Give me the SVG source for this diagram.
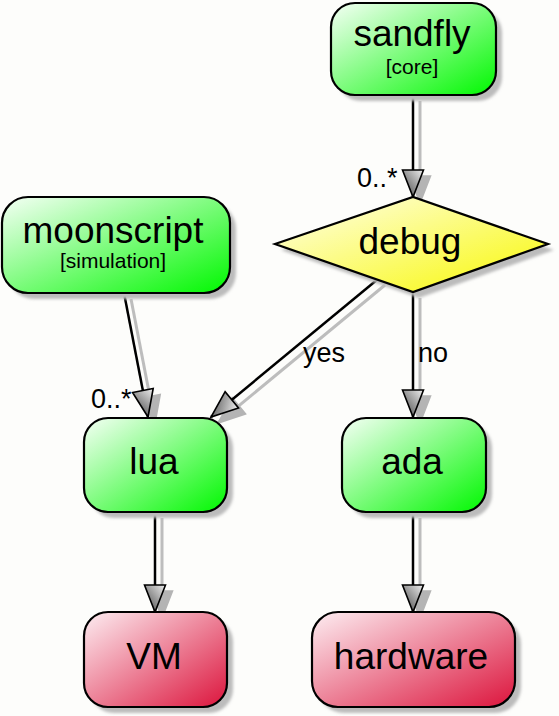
<svg xmlns="http://www.w3.org/2000/svg" width="559" height="716" viewBox="0 0 559 716">
<defs>
<linearGradient id="gGreen" x1="0" y1="0" x2="1" y2="1"><stop offset="0" stop-color="#f6fff6"/><stop offset="1" stop-color="#00f800"/></linearGradient>
<linearGradient id="gRed" x1="0" y1="0" x2="1" y2="1"><stop offset="0" stop-color="#fdeef2"/><stop offset="1" stop-color="#dc143c"/></linearGradient>
<linearGradient id="gYellow" x1="0" y1="0" x2="1" y2="1"><stop offset="0" stop-color="#ffffee"/><stop offset="1" stop-color="#f8f800"/></linearGradient>
<linearGradient id="gArrow" x1="0" y1="0" x2="1" y2="1"><stop offset="0" stop-color="#f0f0f0"/><stop offset="1" stop-color="#404040"/></linearGradient>
<filter id="blur" x="-10%" y="-10%" width="120%" height="120%"><feGaussianBlur stdDeviation="1.5"/></filter>
<marker id="arr" markerUnits="userSpaceOnUse" markerWidth="32" markerHeight="26" refX="28" refY="11.5" orient="auto" overflow="visible">
<path d="M1,1 L28,11.5 L1,22 Z" fill="url(#gArrow)" stroke="#000" stroke-width="1.6" stroke-linejoin="miter"/>
</marker>
<marker id="arrS" markerUnits="userSpaceOnUse" markerWidth="32" markerHeight="26" refX="28" refY="11.5" orient="auto" overflow="visible">
<path d="M1,1 L28,11.5 L1,22 Z" fill="#b4b4b4" stroke="#b4b4b4" stroke-width="1.6"/>
</marker>
</defs>
<style>
.sh{fill:#bcbcbc;filter:url(#blur)}
.box{stroke:#000;stroke-width:2.2}
.t{font-family:"Liberation Sans",Arial,sans-serif;font-size:37px;fill:#000;text-anchor:middle}
.s{font-family:"Liberation Sans",Arial,sans-serif;font-size:21px;fill:#000;text-anchor:middle}
.lbl{font-family:"Liberation Sans",Arial,sans-serif;font-size:27px;fill:#000}
.ln{fill:none;stroke:#000;stroke-width:2.5;marker-end:url(#arr)}
.lnS{fill:none;stroke:#bdbdbd;stroke-width:3;marker-end:url(#arrS)}
</style>
<rect x="0" y="0" width="559" height="716" fill="#fdfdfb"/>
<g id="connectors">
<g transform="translate(7,6)">
<path class="lnS" d="M413,95 L413,197"/>
<path class="lnS" d="M124,293 L148,417"/>
<path class="lnS" d="M378,279 L211,417"/>
<path class="lnS" d="M413,292 L413,417"/>
<path class="lnS" d="M155,512 L155,612"/>
<path class="lnS" d="M413,512 L413,612"/>
</g>
<path class="ln" d="M413,95 L413,197"/>
<path class="ln" d="M124,293 L148,417"/>
<path class="ln" d="M378,279 L211,417"/>
<path class="ln" d="M413,292 L413,417"/>
<path class="ln" d="M155,512 L155,612"/>
<path class="ln" d="M413,512 L413,612"/>
<text class="lbl" x="357" y="187">0..*</text>
<text class="lbl" x="91" y="408">0..*</text>
<text class="lbl" x="303" y="362">yes</text>
<text class="lbl" x="418" y="362">no</text>
</g>
<g id="sandfly">
<rect class="sh" x="337" y="9" width="165" height="92" rx="24"/>
<rect class="box" x="331" y="3" width="165" height="92" rx="24" fill="url(#gGreen)"/>
<text class="t" x="412" y="46">sandfly</text>
<text class="s" x="412" y="74">[core]</text>
</g>
<g id="debug">
<polygon class="sh" points="281,250 419,203 554,250 419,298"/>
<polygon class="box" points="275,244 413,197 548,244 413,292" fill="url(#gYellow)"/>
<text class="t" x="410" y="254">debug</text>
</g>
<g id="moonscript">
<rect class="sh" x="8" y="203" width="228" height="96" rx="26"/>
<rect class="box" x="2" y="197" width="228" height="96" rx="26" fill="url(#gGreen)"/>
<text class="t" x="113" y="243">moonscript</text>
<text class="s" x="113" y="268">[simulation]</text>
</g>
<g id="lua">
<rect class="sh" x="90" y="424" width="143" height="94" rx="24"/>
<rect class="box" x="84" y="418" width="143" height="94" rx="24" fill="url(#gGreen)"/>
<text class="t" x="154" y="474">lua</text>
</g>
<g id="ada">
<rect class="sh" x="348" y="424" width="144" height="94" rx="24"/>
<rect class="box" x="342" y="418" width="144" height="94" rx="24" fill="url(#gGreen)"/>
<text class="t" x="412" y="474">ada</text>
</g>
<g id="VM">
<rect class="sh" x="90" y="618" width="143" height="95" rx="24"/>
<rect class="box" x="84" y="612" width="143" height="95" rx="24" fill="url(#gRed)"/>
<text class="t" x="154" y="669">VM</text>
</g>
<g id="hardware">
<rect class="sh" x="318" y="618" width="203" height="95" rx="26"/>
<rect class="box" x="312" y="612" width="203" height="95" rx="26" fill="url(#gRed)"/>
<text class="t" x="411" y="669">hardware</text>
</g>
</svg>
